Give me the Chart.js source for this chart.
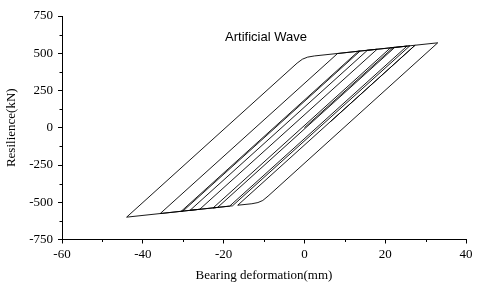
<!DOCTYPE html>
<html>
<head>
<meta charset="utf-8">
<script src="https://cdn.jsdelivr.net/npm/chart.js@4/dist/chart.umd.min.js"></script>
<style>
  html, body { margin: 0; padding: 0; background: #fff; }
  #wrap { width: 480px; height: 288px; position: relative; }
</style>
</head>
<body>
<div id="wrap"><canvas id="loop"></canvas></div>
<script>
// Hysteresis path (mm, kN)
const deformation = [0, 22.0, 22.4, -21.5, -22.6, 21.3, 26.1, -17.8, -28.3, 15.6, 18.0, -25.9, -35.7,
  8.2, 13.8, -30.1, -30.5, 13.4, 25.4, -18.5, -44.0, -1.8, -0.5, 0.8, 2.5, 33.0,
  -9.0, -10.3, -11.5, -13.0, -16.5, 27.4, 6.5];
const resilience = [0, 539, 540, -535, -538, 536, 550, -524, -554, 520, 527, -547, -576,
  498, 515, -560, -561, 514, 548, -526, -600, 434, 460, 474, 482, 570,
  -459, -488, -502, -510, -520, 554, 42];

const xTicks = [-60, -40, -20, 0, 20, 40];
const yTicks = [-750, -500, -250, 0, 250, 500, 750];
const chartTitle = "Artificial Wave";

const serif = "'Liberation Serif', 'Times New Roman', serif";

// minor ticks + caption inside the plot
const extrasPlugin = {
  id: 'extras',
  afterDraw(chart) {
    const { ctx, scales: { x, y } } = chart;
    ctx.save();
    ctx.strokeStyle = '#000';
    ctx.lineWidth = 1;
    ctx.beginPath();
    for (let i = 0; i < xTicks.length - 1; i++) {
      const px = Math.round(x.getPixelForValue((xTicks[i] + xTicks[i + 1]) / 2)) + 0.5;
      ctx.moveTo(px, y.bottom);
      ctx.lineTo(px, y.bottom + 2.5);
    }
    for (let i = 0; i < yTicks.length - 1; i++) {
      const py = Math.round(y.getPixelForValue((yTicks[i] + yTicks[i + 1]) / 2)) + 0.5;
      ctx.moveTo(x.left, py);
      ctx.lineTo(x.left - 2.5, py);
    }
    ctx.stroke();

    ctx.fillStyle = '#000';
    ctx.font = "13px 'Liberation Sans', Arial, sans-serif";
    ctx.textAlign = 'center';
    ctx.textBaseline = 'middle';
    ctx.fillText(chartTitle, x.getPixelForValue(-9.5), y.getPixelForValue(605));
    ctx.restore();
  }
};

new Chart(document.getElementById('loop'), {
  type: 'scatter',
  data: {
    datasets: [{
      data: deformation.map((d, i) => ({ x: d, y: resilience[i] })),
      showLine: true,
      borderColor: '#000',
      borderWidth: 0.9,
      pointRadius: 0,
      tension: 0
    }]
  },
  options: {
    responsive: true,
    maintainAspectRatio: false,
    animation: false,
    layout: { padding: { top: 16, right: 14, left: 0, bottom: 0 } },
    plugins: { legend: { display: false }, tooltip: { enabled: false } },
    scales: {
      x: {
        type: 'linear',
        min: -60, max: 40,
        afterBuildTicks: s => { s.ticks = xTicks.map(v => ({ value: v })); },
        afterFit: s => { s.height = 48.5; },
        border: { display: true, color: '#000', width: 1 },
        grid: { drawOnChartArea: false, drawTicks: true, tickLength: 4, tickColor: '#000' },
        ticks: { color: '#000', padding: 3, maxRotation: 0, font: { family: serif, size: 13 } },
        title: { display: true, text: 'Bearing deformation(mm)', color: '#000',
          padding: { top: 0, bottom: 5 }, font: { family: serif, size: 13 } }
      },
      y: {
        type: 'linear',
        min: -750, max: 750,
        afterBuildTicks: s => { s.ticks = yTicks.map(v => ({ value: v })); },
        afterFit: s => { s.width = 62; },
        border: { display: true, color: '#000', width: 1 },
        grid: { drawOnChartArea: false, drawTicks: true, tickLength: 4, tickColor: '#000' },
        ticks: { color: '#000', padding: 5, font: { family: serif, size: 13 } },
        title: { display: true, text: 'Resilience(kN)', color: '#000',
          padding: { top: 4, bottom: 0 }, font: { family: serif, size: 13 } }
      }
    }
  },
  plugins: [extrasPlugin]
});
</script>
</body>
</html>
